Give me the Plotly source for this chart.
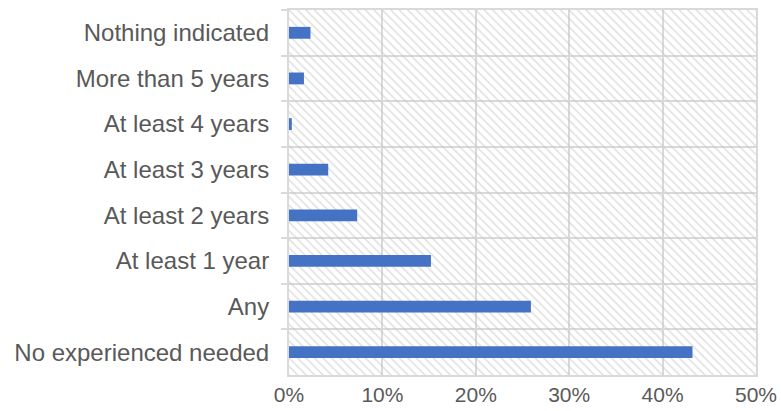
import plotly.graph_objects as go

# Share of job postings by required experience (percent)
categories = [
    "Nothing indicated",
    "More than 5 years",
    "At least 4 years",
    "At least 3 years",
    "At least 2 years",
    "At least 1 year",
    "Any",
    "No experienced needed",
]
shares = [2.3, 1.6, 0.3, 4.2, 7.3, 15.2, 25.9, 43.2]

x_ticks = [0, 10, 20, 30, 40, 50]
x_tick_labels = ["0%", "10%", "20%", "30%", "40%", "50%"]
x_max = x_ticks[-1]

BAR_BLUE = "#4472C4"
GRID = "#d9d9d9"
TEXT = "#595959"
FONT = "Liberation Sans, Arial, sans-serif"

fig = go.Figure()

# Hatched plot background: one full-width band per category
fig.add_trace(go.Bar(
    y=categories,
    x=[x_max] * len(categories),
    orientation="h",
    width=1,
    marker=dict(
        color="rgba(0,0,0,0)",
        line=dict(width=0),
        pattern=dict(shape="\\", fgcolor="#c4c4c4", bgcolor="rgba(0,0,0,0)",
                     size=6, solidity=0.28),
    ),
    hoverinfo="skip",
    showlegend=False,
))

fig.add_trace(go.Bar(
    y=categories,
    x=shares,
    orientation="h",
    width=0.26,
    marker=dict(color=BAR_BLUE, line=dict(width=0)),
    showlegend=False,
))

fig.update_layout(
    width=781,
    height=411,
    margin=dict(l=289, r=25, t=10, b=36),
    paper_bgcolor="white",
    plot_bgcolor="white",
    barmode="overlay",
    font=dict(family=FONT, size=24, color=TEXT),
)

fig.update_xaxes(
    range=[0, x_max],
    tickvals=x_ticks,
    ticktext=x_tick_labels,
    automargin=False,
    showgrid=True,
    gridcolor=GRID,
    gridwidth=2,
    showline=True,
    linecolor=GRID,
    linewidth=2,
    mirror=True,
    zeroline=False,
    ticks="",
    ticklabelstandoff=0,
    tickfont=dict(size=21, color=TEXT),
)

fig.update_yaxes(
    type="category",
    categoryorder="array",
    categoryarray=categories,
    autorange="reversed",
    automargin=False,
    tickson="boundaries",
    showgrid=True,
    gridcolor=GRID,
    gridwidth=2,
    showline=True,
    linecolor=GRID,
    linewidth=2,
    mirror=True,
    ticks="outside",
    ticklen=6,
    tickcolor=GRID,
    tickwidth=2,
    ticklabelstandoff=13,
    tickfont=dict(size=24, color=TEXT),
)

fig.write_html("out.html")
